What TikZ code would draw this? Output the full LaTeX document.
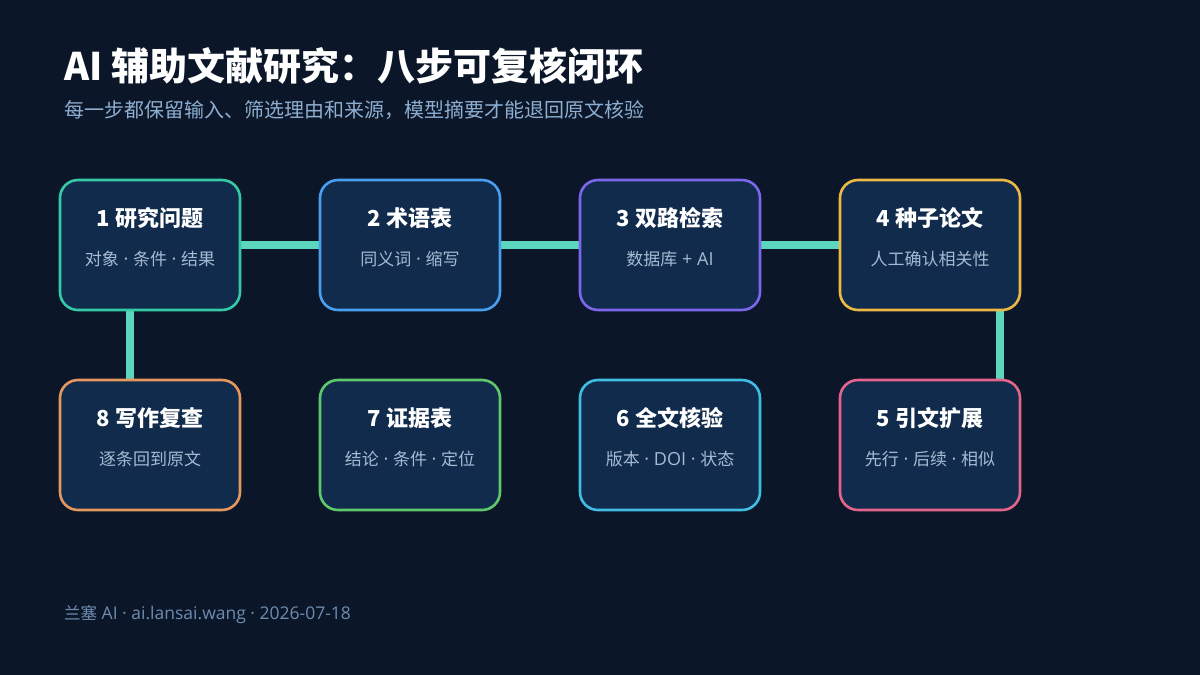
\documentclass[tikz,border=0pt]{standalone}
\usepackage{fontspec}
\setmainfont{Noto Sans CJK SC}
\newfontfamily\latin[Scale=1.06]{Open Sans}
\newcommand\mdot{{\latin\ ·\ }}
\newcommand\lat[1]{{\latin #1}}
\definecolor{bg}{HTML}{0B1729}
\definecolor{boxfill}{HTML}{112B4C}
\definecolor{conn}{HTML}{5CD6BC}
\definecolor{subtxt}{HTML}{A6BAD3}
\definecolor{headsub}{HTML}{8EAED0}
\definecolor{foot}{HTML}{6E8CB0}
\definecolor{cA}{HTML}{35C9A5}
\definecolor{cB}{HTML}{4A9EF0}
\definecolor{cC}{HTML}{7C66EC}
\definecolor{cD}{HTML}{EDB845}
\definecolor{cE}{HTML}{E4648C}
\definecolor{cF}{HTML}{3FBDE2}
\definecolor{cG}{HTML}{5FC86C}
\definecolor{cH}{HTML}{E6975E}
\tikzset{
  stepbox/.style={draw=#1, line width=2.6pt, fill=boxfill, rounded corners=18pt,
    minimum width=180pt, minimum height=130pt, inner sep=0pt},
  boxtitle/.style={text=white, font=\fontsize{22}{26}\selectfont\bfseries, anchor=center},
  boxsub/.style={text=subtxt, font=\fontsize{17}{20}\selectfont, anchor=center},
  link/.style={draw=conn, line width=8pt}
}
\begin{document}
\begin{tikzpicture}[x=1pt,y=-1pt]
\fill[bg] (0,0) rectangle (1200,675);
\useasboundingbox (0,0) rectangle (1200,675);
\node[anchor=base west, text=white, font=\fontsize{38}{44}\selectfont\bfseries, inner sep=0pt] (title) at (64,80) {AI 辅助文献研究：八步可复核闭环};
\node[anchor=base west, text=headsub, font=\fontsize{20}{24}\selectfont, inner sep=0pt] (subtitle) at (64,117) {每一步都保留输入、筛选理由和来源，模型摘要才能退回原文核验};
% connectors (drawn first, behind boxes)
\coordinate (c1) at (150,245);
\coordinate (c2) at (410,245);
\coordinate (c3) at (670,245);
\coordinate (c4) at (930,245);
\coordinate (c8) at (150,445);
\coordinate (c5) at (930,445);
\draw[link] (c1) -- (c2);
\draw[link] (c2) -- (c3);
\draw[link] (c3) -- (c4);
\draw[link] ([xshift=-20pt]c1) -- ([xshift=-20pt]c8);
\draw[link] ([xshift=70pt]c4) -- ([xshift=70pt]c5);
% boxes
\node[stepbox=cA] (b1) at (c1) {};
\node[stepbox=cB] (b2) at (c2) {};
\node[stepbox=cC] (b3) at (c3) {};
\node[stepbox=cD] (b4) at (c4) {};
\node[stepbox=cE] (b5) at (c5) {};
\node[stepbox=cF] (b6) at (670,445) {};
\node[stepbox=cG] (b7) at (410,445) {};
\node[stepbox=cH] (b8) at (c8) {};
% texts
\foreach \n/\t/\s in {b1/1 研究问题/对象\mdot 条件\mdot 结果, b2/2 术语表/同义词\mdot 缩写, b3/3 双路检索/数据库\lat{ +\ AI}, b4/4 种子论文/人工确认相关性, b5/5 引文扩展/先行\mdot 后续\mdot 相似, b6/6 全文核验/版本\mdot\lat{DOI}\mdot 状态, b7/7 证据表/结论\mdot 条件\mdot 定位, b8/8 写作复查/逐条回到原文}{
  \node[boxtitle] (\n t) at ([yshift=27pt]\n.center) {\t};
  \node[boxsub] (\n s) at ([yshift=-14pt]\n.center) {\s};
}
\node[anchor=base west, text=foot, font=\fontsize{16.5}{19}\selectfont, inner sep=0pt] (footer) at (64,619) {兰塞\lat{ AI · ai.lansai.wang · 2026-07-18}};
\end{tikzpicture}
\end{document}
